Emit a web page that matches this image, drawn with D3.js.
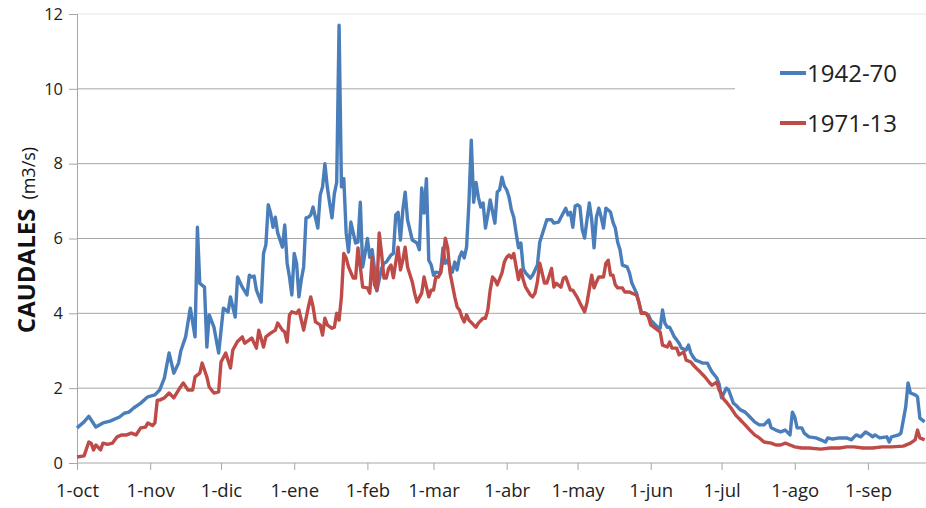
<!DOCTYPE html>
<html><head><meta charset="utf-8">
<script src="https://cdn.jsdelivr.net/npm/d3@7"></script>
<style>body{margin:0;background:#fff}svg{display:block}</style>
</head><body><svg id="c" width="926" height="508"></svg>
<script>
// Month ticks (day of hydrological year starting 1-oct)
const monthLabels = ["1-oct","1-nov","1-dic","1-ene","1-feb","1-mar","1-abr","1-may","1-jun","1-jul","1-ago","1-sep"];
const monthStartDays = [0,31,61,92,123,151,182,212,243,273,304,335];
const yTicks = [0,2,4,6,8,10,12];
const seriesNames = ["1942-70","1971-13"];

// [day, caudal m3/s] — 1942-70
const flow1942_70 = [[0,0.94],[3,1.10],[5,1.25],[8,0.96],[11,1.07],[14,1.12],[18,1.23],[20,1.33],[22,1.36],[24,1.47],[27,1.60],[30,1.77],[33,1.82],[35,1.95],[37,2.27],[39,2.94],[41,2.40],[43,2.67],[44,3.00],[46,3.37],[48,4.14],[50,3.37],[51,6.30],[52,4.80],[54,4.70],[55,3.10],[56,3.96],[58,3.63],[60,2.94],[62,4.14],[64,4.04],[65,4.44],[67,3.90],[68,4.97],[70,4.70],[72,4.49],[73,5.02],[74,4.97],[75,5.00],[76,4.62],[78,4.30],[79,5.60],[80,5.83],[81,6.90],[82,6.68],[83,6.30],[84,6.57],[85,6.15],[87,5.77],[88,6.36],[89,5.34],[90,4.97],[91,4.49],[92,5.60],[93,5.34],[94,4.44],[95,4.90],[96,5.24],[97,6.55],[98,6.57],[99,6.63],[100,6.84],[102,6.28],[103,7.16],[104,7.38],[105,8.00],[106,7.38],[107,6.95],[108,6.55],[109,7.20],[110,7.50],[111,11.70],[112,7.38],[113,7.60],[114,6.15],[115,5.64],[116,6.44],[117,6.15],[118,5.88],[119,5.90],[120,6.97],[121,5.24],[122,5.60],[123,6.00],[124,5.50],[125,5.70],[126,5.20],[127,4.60],[129,5.20],[130,5.34],[131,5.37],[133,5.56],[134,5.60],[135,6.63],[136,6.70],[137,5.96],[138,6.76],[139,7.24],[140,6.50],[142,5.96],[144,5.88],[145,5.70],[146,7.35],[147,6.68],[148,7.60],[149,5.42],[150,5.30],[151,5.02],[152,5.10],[154,5.08],[155,5.75],[156,5.34],[157,5.42],[158,5.24],[159,5.10],[160,5.37],[161,5.16],[162,5.50],[163,5.64],[164,5.48],[165,5.77],[166,6.95],[167,8.63],[168,6.97],[169,7.50],[170,7.10],[171,6.84],[172,6.95],[173,6.28],[174,6.63],[175,7.03],[177,6.41],[178,7.24],[179,7.30],[180,7.64],[181,7.40],[182,7.30],[183,7.10],[184,6.76],[185,6.57],[186,6.15],[187,5.75],[188,5.88],[189,5.20],[190,5.08],[192,4.94],[193,5.02],[195,5.29],[196,5.90],[198,6.30],[199,6.50],[201,6.50],[202,6.41],[204,6.44],[205,6.57],[207,6.81],[208,6.63],[209,6.70],[210,6.30],[211,6.87],[212,6.90],[213,6.85],[214,6.23],[215,6.01],[216,6.50],[217,6.95],[218,6.50],[219,5.75],[220,6.57],[221,6.81],[222,6.57],[223,6.28],[224,6.81],[225,6.76],[226,6.70],[227,6.44],[228,6.28],[229,5.90],[230,5.70],[231,5.29],[233,5.24],[234,5.08],[235,4.81],[237,4.54],[238,4.28],[239,4.04],[241,4.00],[242,3.96],[243,3.82],[245,3.69],[246,3.63],[247,3.60],[248,4.09],[249,3.74],[250,3.63],[251,3.63],[252,3.50],[253,3.37],[254,3.29],[255,3.20],[256,3.07],[258,3.02],[259,3.15],[260,2.94],[261,2.83],[262,2.75],[264,2.70],[265,2.67],[267,2.67],[268,2.54],[269,2.43],[271,2.27],[272,2.10],[273,1.74],[275,2.00],[276,1.95],[278,1.60],[279,1.55],[281,1.42],[283,1.36],[285,1.23],[287,1.10],[289,1.02],[291,1.02],[293,1.15],[294,0.94],[296,0.88],[298,0.83],[300,0.88],[302,0.75],[303,1.36],[304,1.23],[305,0.94],[307,0.94],[308,0.80],[310,0.70],[313,0.67],[315,0.62],[317,0.56],[318,0.67],[320,0.64],[323,0.67],[326,0.67],[328,0.62],[330,0.75],[332,0.70],[334,0.83],[336,0.75],[337,0.70],[338,0.75],[340,0.67],[343,0.70],[344,0.56],[345,0.70],[348,0.75],[349,0.80],[351,1.50],[352,2.14],[353,1.87],[355,1.82],[356,1.77],[357,1.20],[359,1.10]];

// [day, caudal m3/s] — 1971-13
const flow1971_13 = [[0,0.16],[3,0.19],[5,0.56],[6,0.53],[7,0.35],[8,0.48],[10,0.35],[11,0.53],[13,0.50],[15,0.53],[17,0.70],[19,0.75],[21,0.75],[23,0.80],[25,0.75],[27,0.94],[29,0.96],[30,1.07],[32,1.00],[33,1.07],[34,1.68],[35,1.68],[37,1.74],[39,1.87],[41,1.74],[43,1.95],[45,2.14],[47,1.95],[49,1.95],[50,2.30],[52,2.40],[53,2.67],[55,2.30],[56,2.03],[58,1.87],[60,1.90],[61,2.70],[63,2.94],[65,2.54],[66,3.02],[68,3.25],[70,3.37],[71,3.20],[73,3.29],[74,3.34],[76,3.07],[77,3.55],[79,3.10],[80,3.37],[82,3.47],[84,3.55],[85,3.74],[87,3.55],[88,3.50],[89,3.23],[90,3.96],[91,4.04],[93,4.00],[94,4.09],[96,3.55],[98,4.17],[99,4.44],[100,4.17],[101,3.77],[103,3.69],[104,3.42],[105,3.87],[106,3.69],[108,3.60],[109,3.63],[110,4.00],[111,3.82],[112,4.44],[113,5.60],[114,5.48],[115,5.24],[117,4.94],[118,4.94],[119,5.75],[120,5.24],[121,4.70],[123,4.68],[124,4.54],[125,5.50],[126,4.76],[127,4.62],[128,6.15],[129,5.60],[130,4.94],[131,4.94],[132,5.20],[133,5.29],[134,4.95],[136,5.77],[137,5.16],[138,5.42],[139,5.77],[140,5.24],[142,4.84],[143,4.54],[144,4.30],[146,4.54],[147,4.97],[148,4.70],[149,4.44],[150,4.62],[151,4.62],[152,4.97],[153,4.97],[154,5.08],[155,5.42],[156,6.01],[157,5.75],[158,5.08],[159,4.76],[160,4.44],[161,4.17],[162,4.09],[163,3.90],[164,3.77],[165,3.96],[166,3.82],[168,3.69],[169,3.63],[170,3.74],[172,3.87],[173,3.87],[174,4.09],[175,4.62],[176,4.97],[177,4.90],[178,4.76],[180,5.08],[181,5.37],[182,5.50],[183,5.56],[184,5.48],[185,5.60],[186,5.24],[187,4.90],[188,5.16],[189,4.90],[190,4.70],[192,4.49],[193,4.44],[194,4.54],[195,4.84],[196,5.34],[197,5.08],[198,4.81],[199,4.81],[201,5.20],[202,4.70],[203,4.80],[205,4.70],[206,4.94],[207,4.97],[209,4.62],[210,4.62],[212,4.41],[213,4.28],[215,4.04],[216,4.28],[218,5.02],[219,4.68],[220,4.84],[221,4.97],[223,4.97],[224,5.34],[225,5.42],[226,5.02],[227,5.02],[228,4.76],[229,4.68],[231,4.68],[232,4.57],[234,4.57],[235,4.54],[237,4.49],[238,4.30],[239,4.00],[241,4.00],[242,3.90],[243,3.69],[245,3.60],[247,3.50],[248,3.15],[250,3.10],[251,3.23],[252,3.07],[254,3.07],[255,2.89],[257,2.97],[258,2.75],[260,2.70],[261,2.62],[263,2.49],[264,2.43],[266,2.30],[268,2.14],[269,2.08],[271,2.16],[272,1.95],[274,1.70],[275,1.63],[277,1.47],[279,1.28],[281,1.15],[283,1.02],[285,0.88],[287,0.75],[289,0.67],[291,0.56],[294,0.53],[296,0.48],[298,0.48],[300,0.53],[302,0.48],[304,0.43],[307,0.40],[310,0.40],[315,0.37],[319,0.40],[323,0.40],[326,0.43],[329,0.43],[333,0.40],[337,0.40],[341,0.43],[345,0.43],[350,0.45],[353,0.53],[355,0.62],[356,0.88],[357,0.67],[359,0.62]];

const colors = ["#4a7ebb","#be4b48"];
const font = "'Open Sans', 'DejaVu Sans', sans-serif";

const svg = d3.select("#c");
const W = 926;
const plotLeft = 77, plotTop = 14, plotBottom = 463;
const x = d3.scaleLinear().domain([0,365]).range([plotLeft, plotLeft + 365*2.361]);
const y = d3.scaleLinear().domain([0,12]).range([plotBottom, plotTop]);

// gridlines
svg.append("g").selectAll("line").data(yTicks.filter(v=>v>0)).join("line")
  .attr("x1", plotLeft).attr("x2", W)
  .attr("y1", d=>y(d)).attr("y2", d=>y(d))
  .attr("stroke", d=> d===12 ? "#e4e4e4" : "#a6a6a6").attr("stroke-width",1);

// legend background (covers gridline)
svg.append("rect").attr("x",735).attr("y",30).attr("width",W-735).attr("height",120).attr("fill","#fff");

// y axis
const yAxis = d3.axisLeft(y).tickValues(yTicks).tickSize(8).tickPadding(6).tickFormat(d3.format("d"));
const gy = svg.append("g").attr("transform",`translate(${plotLeft},0)`).call(yAxis);
gy.select(".domain").attr("stroke","#a6a6a6");
gy.selectAll(".tick line").attr("stroke","#a6a6a6");
gy.selectAll(".tick text").attr("font-family",font).attr("font-size",16.5).attr("fill","#222");

// x axis
const xAxis = d3.axisBottom(x).tickValues(monthStartDays).tickSize(7).tickPadding(14)
  .tickFormat((d,i)=>monthLabels[i]);
const gx = svg.append("g").attr("transform",`translate(0,${plotBottom})`).call(xAxis);
gx.select(".domain").attr("stroke","#a6a6a6").attr("d", `M${plotLeft},0H${W}`);
gx.selectAll(".tick line").attr("stroke","#a6a6a6");
gx.selectAll(".tick text").attr("font-family",font).attr("font-size",18.5).attr("fill","#222");

// lines
const line = d3.line().x(d=>x(d[0])).y(d=>y(d[1]));
[flow1942_70, flow1971_13].forEach((s,i)=>{
  svg.append("path").datum(s).attr("d",line).attr("fill","none")
    .attr("stroke",colors[i]).attr("stroke-width",3.4).attr("stroke-linejoin","round");
});

// legend
seriesNames.forEach((n,i)=>{
  const ly = 73 + i*50;
  svg.append("line").attr("x1",780).attr("x2",806).attr("y1",ly).attr("y2",ly)
    .attr("stroke",colors[i]).attr("stroke-width",4);
  svg.append("text").attr("x",807).attr("y",ly+9).text(n)
    .attr("font-family",font).attr("font-size",24).attr("fill","#222");
});

// y title
const t = svg.append("text").attr("transform","translate(35,240) rotate(-90)")
  .attr("text-anchor","middle").attr("font-family",font).attr("fill","#111");
t.append("tspan").attr("font-size",24).attr("font-weight","bold").text("CAUDALES");
t.append("tspan").attr("font-size",18).attr("dx",9).text("(m3/s)");
</script></body></html>
